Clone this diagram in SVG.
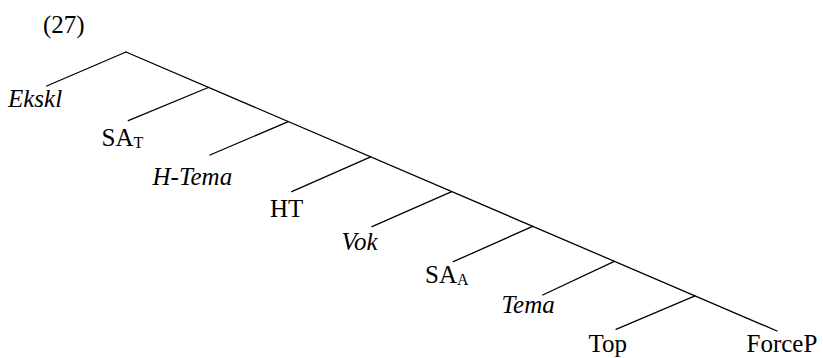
<svg xmlns="http://www.w3.org/2000/svg" width="823" height="358" viewBox="0 0 823 358">
<style>
  .ln { stroke: #000; stroke-width: 1.3; fill: none; stroke-linecap: round; }
  .t { font-family: 'Liberation Serif', 'DejaVu Serif', serif; font-size: 25px; fill: #000; }
  .i { font-style: italic; }
  .sub { font-size: 16px; }
</style>
<rect width="823" height="358" fill="#fff"/>
<text class="t" x="43" y="33">(27)</text>
<g id="connectors">
  <line class="ln" x1="126" y1="52" x2="777" y2="331"/>
  <line class="ln" x1="126" y1="52" x2="46.7" y2="86"/>
  <line class="ln" x1="208.3" y1="87.5" x2="128.3" y2="120.7"/>
  <line class="ln" x1="288.3" y1="121.6" x2="210" y2="155"/>
  <line class="ln" x1="370.7" y1="156.9" x2="291.7" y2="191.7"/>
  <line class="ln" x1="451.7" y1="191.6" x2="372" y2="226.7"/>
  <line class="ln" x1="532.7" y1="226.3" x2="453.3" y2="261.7"/>
  <line class="ln" x1="614.3" y1="261.3" x2="542.7" y2="295"/>
  <line class="ln" x1="695" y1="295.9" x2="616" y2="329.3"/>
</g>
<g id="n-ekskl"><text class="t i" x="8" y="107">Ekskl</text></g>
<g id="n-sat"><text class="t" x="101.5" y="146">SA<tspan class="sub" dy="2">T</tspan></text></g>
<g id="n-htema"><text class="t i" x="152.5" y="185">H-Tema</text></g>
<g id="n-ht"><text class="t" x="270" y="216.5">HT</text></g>
<g id="n-vok"><text class="t i" x="341.5" y="249.5">Vok</text></g>
<g id="n-saa"><text class="t" x="425" y="283">SA<tspan class="sub" dy="2">A</tspan></text></g>
<g id="n-tema"><text class="t i" x="501.5" y="312.5">Tema</text></g>
<g id="n-top"><text class="t" x="588.5" y="351.5">Top</text></g>
<g id="n-forcep"><text class="t" x="746.5" y="352">ForceP</text></g>
</svg>
